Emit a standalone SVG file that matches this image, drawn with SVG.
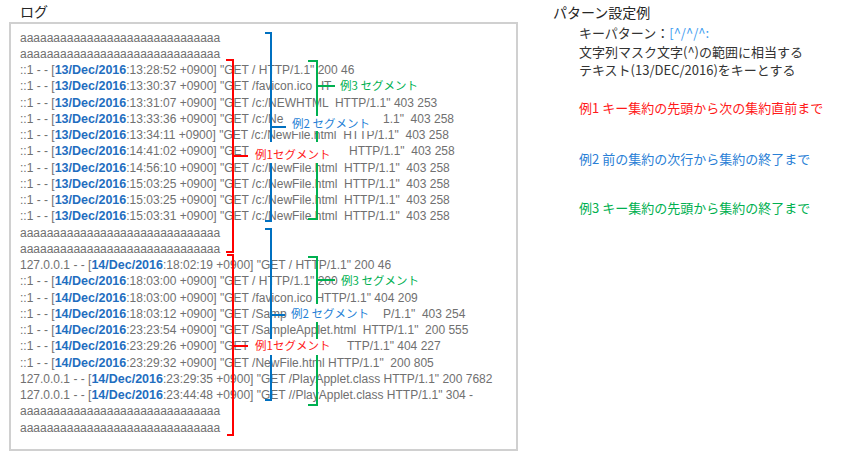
<svg xmlns="http://www.w3.org/2000/svg" width="865" height="473" viewBox="0 0 865 473">
<style>
.title{font-family:"Noto Sans CJK JP","Noto Sans CJK SC",sans-serif;font-size:14px;fill:#262626}
.log{font-family:"Liberation Sans",Arial,sans-serif;font-size:12px;fill:#707070;white-space:pre}
.date{font-weight:bold;fill:#1f6ebf;font-size:12.5px}
.jp{font-family:"Noto Sans CJK JP","Noto Sans CJK SC",sans-serif;font-size:13px;fill:#333333}
.lab{font-family:"Noto Sans CJK JP","Noto Sans CJK SC",sans-serif;font-size:11.5px}
.br{fill:none;stroke-width:2}
.red{stroke:#ff0000}.blue{stroke:#0070c0}.green{stroke:#00b050}
.tr{fill:#ff1a1a}.tb{fill:#1f7fd6}.tg{fill:#00b050}
.box{fill:#ffffff}
</style>
<rect width="865" height="473" fill="#ffffff"/>
<g id="log-panel">
<text class="title" x="20" y="17">ログ</text>
<rect x="10" y="23" width="507" height="427" fill="#ffffff" stroke="#d0d0d0" stroke-width="2"/>
<g class="log">
<text x="20" y="41.5">aaaaaaaaaaaaaaaaaaaaaaaaaaaaaa</text>
<text x="20" y="57.75">aaaaaaaaaaaaaaaaaaaaaaaaaaaaaa</text>
<text x="20" y="74" xml:space="preserve">::1 - - [<tspan class="date">13/Dec/2016</tspan>:13:28:52 +0900] "GET / HTTP/1.1" 200 46</text>
<text x="20" y="90.25" xml:space="preserve">::1 - - [<tspan class="date">13/Dec/2016</tspan>:13:30:37 +0900] "GET /favicon.ico HT</text>
<text x="20" y="106.5" xml:space="preserve">::1 - - [<tspan class="date">13/Dec/2016</tspan>:13:31:07 +0900] "GET /c:/NEWHTML  HTTP/1.1" 403 253</text>
<text x="20" y="122.75" xml:space="preserve">::1 - - [<tspan class="date">13/Dec/2016</tspan>:13:33:36 +0900] "GET /c:/Ne</text>
<text x="383" y="122.75" xml:space="preserve">1.1"  403 258</text>
<text x="20" y="139" xml:space="preserve">::1 - - [<tspan class="date">13/Dec/2016</tspan>:13:34:11 +0900] "GET /c:/NewFile.html  HTTP/1.1"  403 258</text>
<text x="20" y="155.25" xml:space="preserve">::1 - - [<tspan class="date">13/Dec/2016</tspan>:14:41:02 +0900] "GET</text>
<text x="349" y="155.25" xml:space="preserve">HTTP/1.1"  403 258</text>
<text x="20" y="171.5" xml:space="preserve">::1 - - [<tspan class="date">13/Dec/2016</tspan>:14:56:10 +0900] "GET /c:/NewFile.html  HTTP/1.1"  403 258</text>
<text x="20" y="187.75" xml:space="preserve">::1 - - [<tspan class="date">13/Dec/2016</tspan>:15:03:25 +0900] "GET /c:/NewFile.html  HTTP/1.1"  403 258</text>
<text x="20" y="204" xml:space="preserve">::1 - - [<tspan class="date">13/Dec/2016</tspan>:15:03:25 +0900] "GET /c:/NewFile.html  HTTP/1.1"  403 258</text>
<text x="20" y="220.25" xml:space="preserve">::1 - - [<tspan class="date">13/Dec/2016</tspan>:15:03:31 +0900] "GET /c:/NewFile.html  HTTP/1.1"  403 258</text>
<text x="20" y="236.5">aaaaaaaaaaaaaaaaaaaaaaaaaaaaaa</text>
<text x="20" y="252.75">aaaaaaaaaaaaaaaaaaaaaaaaaaaaaa</text>
<text x="20" y="269" xml:space="preserve">127.0.0.1 - - [<tspan class="date">14/Dec/2016</tspan>:18:02:19 +0900] "GET / HTTP/1.1" 200 46</text>
<text x="20" y="285.25" xml:space="preserve">::1 - - [<tspan class="date">14/Dec/2016</tspan>:18:03:00 +0900] "GET / HTTP/1.1" 200</text>
<text x="20" y="301.5" xml:space="preserve">::1 - - [<tspan class="date">14/Dec/2016</tspan>:18:03:00 +0900] "GET /favicon.ico HTTP/1.1" 404 209</text>
<text x="20" y="317.75" xml:space="preserve">::1 - - [<tspan class="date">14/Dec/2016</tspan>:18:03:12 +0900] "GET /Samp</text>
<text x="383" y="317.75" xml:space="preserve">P/1.1"  403 254</text>
<text x="20" y="334" xml:space="preserve">::1 - - [<tspan class="date">14/Dec/2016</tspan>:23:23:54 +0900] "GET /SampleApplet.html  HTTP/1.1"  200 555</text>
<text x="20" y="350.25" xml:space="preserve">::1 - - [<tspan class="date">14/Dec/2016</tspan>:23:29:26 +0900] "GET</text>
<text x="347" y="350.25" xml:space="preserve">TTP/1.1" 404 227</text>
<text x="20" y="366.5" xml:space="preserve">::1 - - [<tspan class="date">14/Dec/2016</tspan>:23:29:32 +0900] "GET /NewFile.html HTTP/1.1"  200 805</text>
<text x="20" y="382.75" xml:space="preserve">127.0.0.1 - - [<tspan class="date">14/Dec/2016</tspan>:23:29:35 +0900] "GET /PlayApplet.class HTTP/1.1" 200 7682</text>
<text x="20" y="399" xml:space="preserve">127.0.0.1 - - [<tspan class="date">14/Dec/2016</tspan>:23:44:48 +0900] "GET //PlayApplet.class HTTP/1.1" 304 -</text>
<text x="20" y="415.25">aaaaaaaaaaaaaaaaaaaaaaaaaaaaaa</text>
<text x="20" y="431.5">aaaaaaaaaaaaaaaaaaaaaaaaaaaaaa</text>
</g>
</g>
<g id="connectors">
<path class="br green" d="M308,61 H317 V219 H308 M317,86 H335"/>
<path class="br blue" d="M265,33 H271 V221 H265 M271,127 H286"/>
<path class="br red" d="M226,60 H233 V252 H226 M233,156 H248"/>
<path class="br green" d="M308,257 H317 V405 H308 M317,280 H335"/>
<path class="br blue" d="M265,229 H271 V400 H265 M271,315 H285"/>
<path class="br red" d="M227,255 H233 V435 H227 M233,346 H248"/>
</g>
<g id="label-ex3-top"><rect class="box" x="336" y="79" width="92" height="17"/><text class="lab tg" x="340" y="90">例3 セグメント</text></g>
<g id="label-ex2-top"><rect class="box" x="287" y="116" width="86" height="15"/><text class="lab tb" x="292" y="128">例2 セグメント</text></g>
<g id="label-ex1-top"><rect class="box" x="250" y="142" width="95" height="21"/><text class="lab tr" x="255" y="158.5">例1セグメント</text></g>
<g id="label-ex3-bottom"><rect class="box" x="338" y="274" width="90" height="17"/><text class="lab tg" x="341" y="284.5">例3 セグメント</text></g>
<g id="label-ex2-bottom"><rect class="box" x="289" y="304" width="93" height="18"/><text class="lab tb" x="291" y="317.5">例2 セグメント</text></g>
<g id="label-ex1-bottom"><rect class="box" x="250" y="339" width="95" height="16"/><text class="lab tr" x="255" y="349.5">例1セグメント</text></g>
<g id="pattern-panel">
<text class="title" x="553" y="18">パターン設定例</text>
<text class="jp" x="579" y="37.5">キーパターン：<tspan fill="#3d9cf0">[^/^/^:</tspan></text>
<text class="jp" x="579" y="56.5">文字列マスク文字(^)の範囲に相当する</text>
<text class="jp" x="579" y="74.5">テキスト(13/DEC/2016)をキーとする</text>
<text class="jp" x="579" y="112.5" style="fill:#ff1a1a">例1 キー集約の先頭から次の集約直前まで</text>
<text class="jp" x="579" y="163.5" style="fill:#2a80d6">例2 前の集約の次行から集約の終了まで</text>
<text class="jp" x="579" y="212.5" style="fill:#00b050">例3 キー集約の先頭から集約の終了まで</text>
</g>
</svg>
